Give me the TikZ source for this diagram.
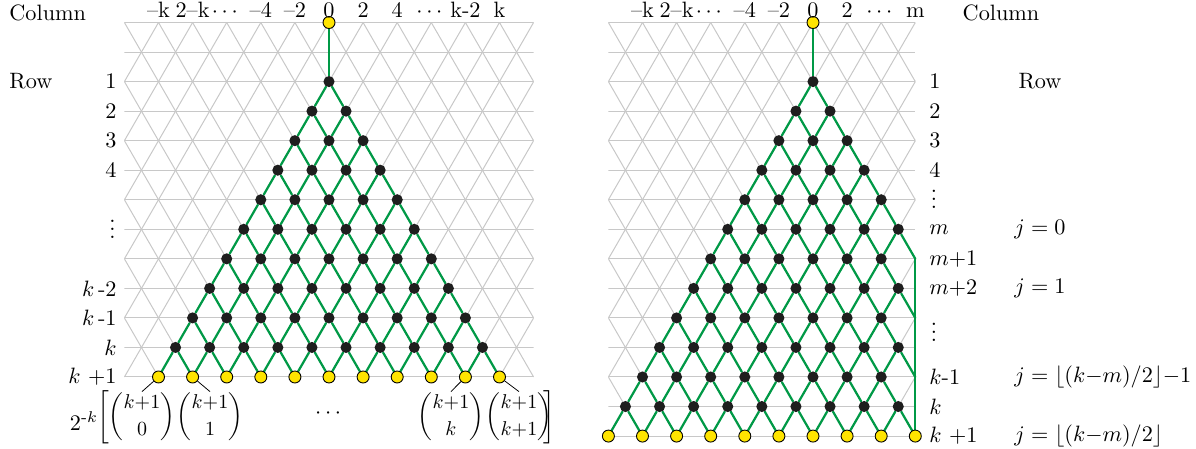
\documentclass[tikz,border=0pt]{standalone}
\usepackage{amsmath}
\pgfdeclarelayer{gridlayer}
\pgfdeclarelayer{edgelayer}
\pgfsetlayers{gridlayer,edgelayer,main}
\definecolor{gridgray}{RGB}{200,200,200}
\definecolor{pathgreen}{RGB}{0,153,70}
\definecolor{dotyellow}{RGB}{255,228,0}
\definecolor{dotblack}{RGB}{30,30,30}
\newcommand\myvdots{\vbox{\baselineskip3.6pt\lineskiplimit0pt\lineskip0pt\hbox{.}\hbox{.}\hbox{.}}}
\begin{document}
\begin{tikzpicture}[x=0.45pt,y=-0.45pt,
  blk/.style={circle,fill=dotblack,inner sep=0pt,minimum size=5pt},
  ylw/.style={circle,fill=dotyellow,draw=black,line width=0.4pt,inner sep=0pt,minimum size=5.4pt},
  grd/.style={draw=gridgray,line width=0.45pt},
  edge/.style={draw=pathgreen,line width=1pt,line cap=round,line join=round},
  lead/.style={draw=black,line width=0.35pt},
  lbl/.style={inner sep=0pt},
  bnm/.style={inner sep=0.5pt,scale=0.9}]
\useasboundingbox (0,0) rectangle (1196,448);

% ---------------- grids ----------------
\begin{pgfonlayer}{gridlayer}
\begin{scope}
\clip (124.4,18) rectangle (533.6,381);
\foreach \i in {0,...,12} \draw[grd] (124.4,{22.5+\i*29.54}) -- (533.6,{22.5+\i*29.54});
\foreach \c in {-36,-34,...,12} \draw[grd] ({329+\c*17.05},22.5) -- ({329+(\c+12)*17.05},{22.5+12*29.54});
\foreach \c in {-12,-10,...,36} \draw[grd] ({329+\c*17.05},22.5) -- ({329+(\c-12)*17.05},{22.5+12*29.54});
\end{scope}
\begin{scope}
\clip (608.4,18) rectangle (915.3,440);
\foreach \i in {0,...,14} \draw[grd] (608.4,{22.5+\i*29.54}) -- (915.3,{22.5+\i*29.54});
\foreach \c in {-40,-38,...,6} \draw[grd] ({813+\c*17.05},22.5) -- ({813+(\c+14)*17.05},{22.5+14*29.54});
\foreach \c in {-12,-10,...,34} \draw[grd] ({813+\c*17.05},22.5) -- ({813+(\c-14)*17.05},{22.5+14*29.54});
\end{scope}
\end{pgfonlayer}

% ---------------- left panel nodes ----------------
\node[ylw] (Ltop) at (329,22.5) {};
\foreach \r in {1,...,10}{
  \foreach \k in {1,...,\r}{
    \pgfmathtruncatemacro\ci{2*\k-\r-1+20}
    \node[blk] (L\r x\ci) at ({329+(\ci-20)*17.05},{22.5+(\r+1)*29.54}) {};
  }}
\foreach \k in {1,...,11}{
  \pgfmathtruncatemacro\ci{2*\k-12+20}
  \node[ylw] (L11x\ci) at ({329+(\ci-20)*17.05},{22.5+12*29.54}) {};
}
\begin{pgfonlayer}{edgelayer}
\draw[edge] (Ltop) -- (L1x20);
\foreach \r in {1,...,10}{
  \pgfmathtruncatemacro\rr{\r+1}
  \foreach \k in {1,...,\r}{
    \pgfmathtruncatemacro\ci{2*\k-\r-1+20}
    \pgfmathtruncatemacro\cl{\ci-1}
    \pgfmathtruncatemacro\cR{\ci+1}
    \draw[edge] (L\r x\ci) -- (L\rr x\cl);
    \draw[edge] (L\r x\ci) -- (L\rr x\cR);
  }}
\end{pgfonlayer}

% ---------------- right panel nodes ----------------
\node[ylw] (Rtop) at (813,22.5) {};
\foreach \r in {1,...,12}{
  \foreach \k in {1,...,\r}{
    \pgfmathtruncatemacro\ci{2*\k-\r-1+20}
    \ifnum\ci<26
      \node[blk] (R\r x\ci) at ({813+(\ci-20)*17.05},{22.5+(\r+1)*29.54}) {};
    \fi
  }}
\foreach \r in {7,9,11} \coordinate (R\r x26) at ({813+6*17.05},{22.5+(\r+1)*29.54});
\foreach \k in {1,...,10}{
  \pgfmathtruncatemacro\ci{2*\k-14+20}
  \node[ylw] (R13x\ci) at ({813+(\ci-20)*17.05},{22.5+14*29.54}) {};
}
\begin{pgfonlayer}{edgelayer}
\draw[edge] (Rtop) -- (R1x20);
\draw[edge] (R7x26) -- (R13x26);
\foreach \r in {1,...,12}{
  \pgfmathtruncatemacro\rr{\r+1}
  \foreach \k in {1,...,\r}{
    \pgfmathtruncatemacro\ci{2*\k-\r-1+20}
    \ifnum\ci<26
      \pgfmathtruncatemacro\cl{\ci-1}
      \pgfmathtruncatemacro\cR{\ci+1}
      \draw[edge] (R\r x\ci) -- (R\rr x\cl);
      \draw[edge] (R\r x\ci) -- (R\rr x\cR);
    \fi
  }}
\end{pgfonlayer}

% ---------------- left labels ----------------
\node[lbl,anchor=west] (colL) at (9,13) {Column};
\node[lbl,anchor=west] (rowL) at (9,81.6) {Row};
\foreach \c/\t in {-10/{--k},-8/{2--k},-6/{$\cdots$},-4/{--4},-2/{--2},0/0,2/2,4/4,6/{$\cdots$},8/{k-2},10/k}
  \node[lbl,anchor=base] (cl\c) at ({329+\c*17.05},17.5) {\t};
\foreach \r/\t in {1/1,2/2,3/3,4/4,8/{$k$\,-2},9/{$k$\,-1},10/{$k$},11/{$k$ +1}}
  \node[lbl,anchor=east] (rl\r) at (117,{22.5+(\r+1)*29.54}) {\t};
\node[lbl] (rldots) at (112.5,229.5) {\myvdots};

\node[lbl] (pref) at (84,421) {$2^{\text{-}k}$};
\node[lbl] (lbr) at (103,417) {$\biggl[$};
\node[bnm] (b0) at (142,417) {$\dbinom{k{+}1}{0}$};
\node[bnm] (b1) at (210,417) {$\dbinom{k{+}1}{1}$};
\node[lbl] (bd) at (330,414) {$\cdots$};
\node[bnm] (bk) at (451,417) {$\dbinom{k{+}1}{k}$};
\node[bnm] (bk1) at (519,417) {$\dbinom{k{+}1}{k{+}1}$};
\node[lbl] (rbr) at (549,417) {$\biggr]$};
\draw[lead] (L11x10) -- (b0.north);
\draw[lead] (L11x12) -- (b1.north);
\draw[lead] (L11x28) -- (bk.north);
\draw[lead] (L11x30) -- (bk1.north);

% ---------------- right labels ----------------
\foreach \c/\t in {-10/{--k},-8/{2--k},-6/{$\cdots$},-4/{--4},-2/{--2},0/0,2/2,4/{$\cdots$},6/m}
  \node[lbl,anchor=base] (cr\c) at ({813+\c*17.05},17.5) {\t};
\node[lbl] (colR) at (1001,13) {Column};
\node[lbl] (rowR) at (1040,81.6) {Row};
\foreach \r/\t in {1/1,2/2,3/3,4/4,6/{$m$},7/{$m{+}1$},8/{$m{+}2$},11/{$k$-1},12/{$k$},13/{$k$ +1}}
  \node[lbl,anchor=west] (rr\r) at (929,{22.5+(\r+1)*29.54}) {\t};
\node[lbl] (rrdotsa) at (934,199.5) {\myvdots};
\node[lbl] (rrdotsb) at (934,332) {\myvdots};
\node[lbl,anchor=west] (j0) at (1014,{22.5+7*29.54}) {$j=0$};
\node[lbl,anchor=west] (j1) at (1014,{22.5+9*29.54}) {$j=1$};
\node[lbl,anchor=west] (j2) at (1014,{22.5+12*29.54}) {$j=\lfloor (k{-}m)/2\rfloor{-}1$};
\node[lbl,anchor=west] (j3) at (1014,{22.5+14*29.54}) {$j=\lfloor (k{-}m)/2\rfloor$};
\end{tikzpicture}
\end{document}
